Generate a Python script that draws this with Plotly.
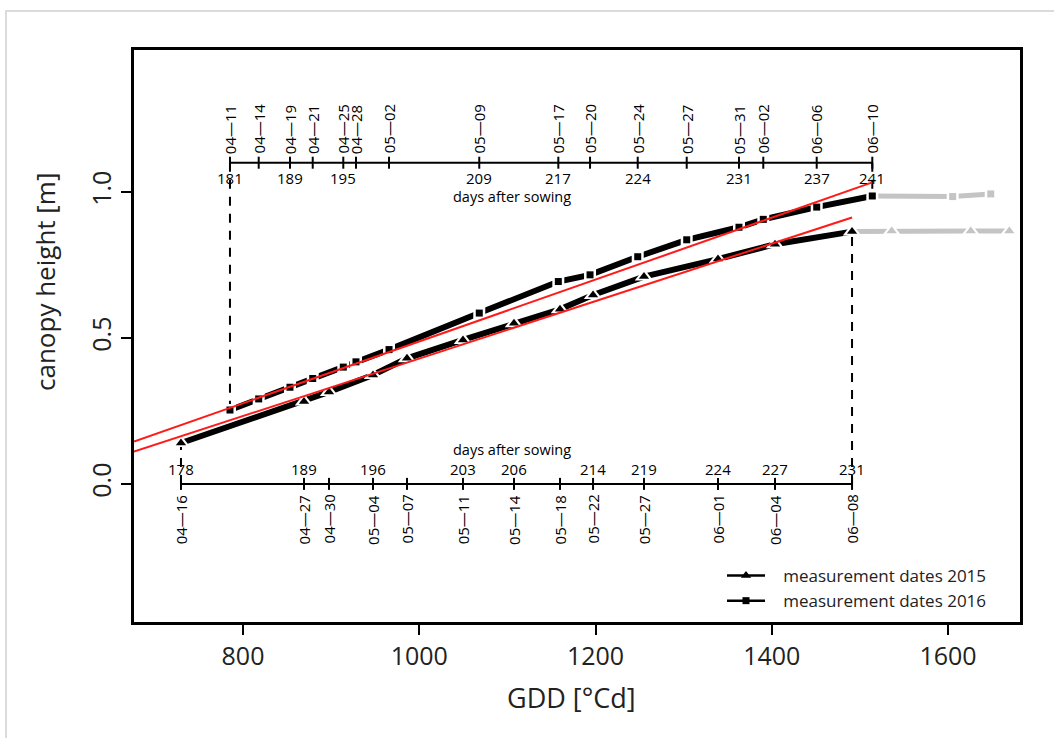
import plotly.graph_objects as go

# ---------------- data ----------------
gdd_2015 = [729.6, 869.2, 897.6, 947.5, 986.1, 1049.6, 1107.5, 1159.7, 1197.2, 1255.0, 1339.0, 1403.7, 1491.1]
height_2015 = [0.140, 0.282, 0.315, 0.373, 0.430, 0.493, 0.550, 0.598, 0.647, 0.710, 0.770, 0.821, 0.864]
dates_2015 = ["04—16", "04—27", "04—30", "05—04", "05—07", "05—11", "05—14",
              "05—18", "05—22", "05—27", "06—01", "06—04", "06—08"]
das_2015 = ["178", "189", "", "196", "", "203", "206", "", "214", "219", "224", "227", "231"]

gdd_2016 = [785.2, 817.8, 853.3, 879.1, 913.8, 928.2, 965.7, 1068.1, 1157.8, 1193.8,
            1247.9, 1303.5, 1362.8, 1390.4, 1451.0, 1514.1]
height_2016 = [0.253, 0.291, 0.331, 0.361, 0.400, 0.418, 0.460, 0.585, 0.693, 0.716,
               0.778, 0.836, 0.879, 0.906, 0.948, 0.986]
dates_2016 = ["04—11", "04—14", "04—19", "04—21", "04—25", "04—28", "05—02", "05—09",
              "05—17", "05—20", "05—24", "05—27", "05—31", "06—02", "06—06", "06—10"]
das_2016 = ["181", "", "189", "", "195", "", "", "209", "217", "", "224", "", "231", "", "237", "241"]

gdd_2015_ext = [1491.1, 1536.1, 1625.8, 1669.6]
height_2015_ext = [0.864, 0.866, 0.866, 0.866]
gdd_2016_ext = [1514.1, 1605.3, 1648.5]
height_2016_ext = [0.986, 0.984, 0.993]

fit_2015 = [-0.5547, 0.0009838]   # intercept, slope
fit_2016 = [-0.5714, 0.0010593]

x_ticks = [800, 1000, 1200, 1400, 1600]
y_ticks = [0.0, 0.5, 1.0]
y_tick_labels = ["0.0", "0.5", "1.0"]
legend_names = ["measurement dates 2015", "measurement dates 2016"]

X_RANGE = [676.3, 1681.7]
Y_RANGE = [-0.473, 1.486]
TOP_AXIS_Y = 1.1
BOTTOM_AXIS_Y = 0.0

# ---------------- layout helpers ----------------
W, H = 1054, 738
ML, MR, MT, MB = 134, 34, 50, 116
PLOT_H = H - MT - MB
PX_PER_Y = PLOT_H / (Y_RANGE[1] - Y_RANGE[0])


def dy(px):
    return px / PX_PER_Y


FONT = "Open Sans"
BLACK = "#000000"
GRAY = "#c4c4c4"
RED = "#ff1a1a"
NBSP = "\u00a0"

fig = go.Figure()


def axis_traces(gdds, yline):
    fig.add_trace(go.Scatter(x=[gdds[0], gdds[-1]], y=[yline, yline], mode="lines",
                             line=dict(color=BLACK, width=2), showlegend=False, hoverinfo="skip"))
    tx, ty = [], []
    for g in gdds:
        tx += [g, g, None]
        ty += [yline - dy(6), yline + dy(6), None]
    fig.add_trace(go.Scatter(x=tx, y=ty, mode="lines", line=dict(color=BLACK, width=2),
                             showlegend=False, hoverinfo="skip"))


axis_traces(gdd_2016, TOP_AXIS_Y)
axis_traces(gdd_2015, BOTTOM_AXIS_Y)

# dashed connectors from the date axes to first/last measurement
dx, dyv = [], []
for g, h in [(gdd_2016[0], height_2016[0]), (gdd_2016[-1], height_2016[-1])]:
    dx += [g, g, None]
    dyv += [TOP_AXIS_Y, h, None]
for g, h in [(gdd_2015[0], height_2015[0]), (gdd_2015[-1], height_2015[-1])]:
    dx += [g, g, None]
    dyv += [BOTTOM_AXIS_Y, h, None]
fig.add_trace(go.Scatter(x=dx, y=dyv, mode="lines", line=dict(color=BLACK, width=2, dash="9px,8px"),
                         showlegend=False, hoverinfo="skip"))

# gray extensions (lines)
fig.add_trace(go.Scatter(x=gdd_2015_ext, y=height_2015_ext, mode="lines",
                         line=dict(color=GRAY, width=5), showlegend=False, hoverinfo="skip"))
fig.add_trace(go.Scatter(x=gdd_2016_ext, y=height_2016_ext, mode="lines",
                         line=dict(color=GRAY, width=5), showlegend=False, hoverinfo="skip"))

# main series (thick lines)
fig.add_trace(go.Scatter(x=gdd_2015, y=height_2015, mode="lines",
                         line=dict(color=BLACK, width=6), showlegend=False, hoverinfo="skip"))
fig.add_trace(go.Scatter(x=gdd_2016, y=height_2016, mode="lines",
                         line=dict(color=BLACK, width=6), showlegend=False, hoverinfo="skip"))

# white gaps around points (type = "b" look)
for xs, ys, sym, sz in [(gdd_2015, height_2015, "triangle-up", 16),
                        (gdd_2016, height_2016, "square", 12),
                        (gdd_2015_ext[1:], height_2015_ext[1:], "triangle-up", 16),
                        (gdd_2016_ext[1:], height_2016_ext[1:], "square", 12)]:
    fig.add_trace(go.Scatter(x=xs, y=ys, mode="markers",
                             marker=dict(symbol=sym, size=sz, color="white"),
                             showlegend=False, hoverinfo="skip"))

# point symbols (legend entries)
fig.add_trace(go.Scatter(x=gdd_2015, y=height_2015, mode="markers", name=NBSP * 3 + legend_names[0],
                         marker=dict(symbol="triangle-up", size=9, color=BLACK),
                         line=dict(color=BLACK, width=2.5), showlegend=False))
fig.add_trace(go.Scatter(x=gdd_2016, y=height_2016, mode="markers", name=NBSP * 3 + legend_names[1],
                         marker=dict(symbol="square", size=7, color=BLACK),
                         line=dict(color=BLACK, width=2.5), showlegend=False))
fig.add_trace(go.Scatter(x=gdd_2015_ext[1:], y=height_2015_ext[1:], mode="markers",
                         marker=dict(symbol="triangle-up", size=9, color=GRAY),
                         showlegend=False, hoverinfo="skip"))
fig.add_trace(go.Scatter(x=gdd_2016_ext[1:], y=height_2016_ext[1:], mode="markers",
                         marker=dict(symbol="square", size=7, color=GRAY),
                         showlegend=False, hoverinfo="skip"))

# legend-only entries (thin line + symbol, like the reference key)
fig.add_trace(go.Scatter(x=[None], y=[None], mode="lines+markers", name=NBSP * 3 + legend_names[0],
                         line=dict(color=BLACK, width=2.5),
                         marker=dict(symbol="triangle-up", size=9, color=BLACK)))
fig.add_trace(go.Scatter(x=[None], y=[None], mode="lines+markers", name=NBSP * 3 + legend_names[1],
                         line=dict(color=BLACK, width=2.5),
                         marker=dict(symbol="square", size=7, color=BLACK)))

# linear fits
for fit, gdds in [(fit_2016, gdd_2016), (fit_2015, gdd_2015)]:
    xs = [X_RANGE[0], gdds[-1]]
    ys = [fit[0] + fit[1] * v for v in xs]
    fig.add_trace(go.Scatter(x=xs, y=ys, mode="lines", line=dict(color=RED, width=2),
                             showlegend=False, hoverinfo="skip"))

annotations = []
small = dict(size=15, color=BLACK, family=FONT)
# top axis labels (2016)
for g, d, n in zip(gdd_2016, dates_2016, das_2016):
    annotations.append(dict(x=g, y=TOP_AXIS_Y + dy(7), text=d, textangle=-90, showarrow=False,
                            xanchor="center", yanchor="bottom", font=small))
    if n:
        annotations.append(dict(x=g, y=TOP_AXIS_Y - dy(15), text=n, showarrow=False,
                                xanchor="center", yanchor="middle", font=small))
annotations.append(dict(x=1105, y=TOP_AXIS_Y - dy(34), text="days after sowing", showarrow=False,
                        xanchor="center", yanchor="middle", font=dict(size=14.5, color=BLACK, family=FONT)))
# bottom axis labels (2015)
for g, d, n in zip(gdd_2015, dates_2015, das_2015):
    annotations.append(dict(x=g, y=BOTTOM_AXIS_Y - dy(9), text=d, textangle=-90, showarrow=False,
                            xanchor="center", yanchor="top", font=small))
    if n:
        annotations.append(dict(x=g, y=BOTTOM_AXIS_Y + dy(15), text=n, showarrow=False,
                                xanchor="center", yanchor="middle", font=small))
annotations.append(dict(x=1105, y=BOTTOM_AXIS_Y + dy(34), text="days after sowing", showarrow=False,
                        xanchor="center", yanchor="middle", font=dict(size=14.5, color=BLACK, family=FONT)))

# axis titles
annotations.append(dict(xref="paper", yref="paper", x=(571 - ML) / (W - ML - MR), y=1 - (697 - MT) / PLOT_H,
                        text="GDD [°Cd]", showarrow=False, xanchor="center", yanchor="middle",
                        font=dict(size=27, color="#222222", family=FONT)))
annotations.append(dict(xref="paper", yref="paper", x=(45 - ML) / (W - ML - MR), y=1 - (282 - MT) / PLOT_H,
                        text="canopy height [m]", textangle=-90, showarrow=False, xanchor="center",
                        yanchor="middle", font=dict(size=26, color="#222222", family=FONT)))

fig.update_layout(
    width=W, height=H,
    margin=dict(l=ML, r=MR, t=MT, b=MB),
    paper_bgcolor="white", plot_bgcolor="white",
    font=dict(family=FONT, color="#222222"),
    annotations=annotations,
    shapes=[dict(type="rect", xref="paper", yref="paper",
                 x0=(6 - ML) / (W - ML - MR), x1=1.2,
                 y0=-0.4, y1=1 - (11 - MT) / PLOT_H,
                 line=dict(color="#cfcfcf", width=1.5), layer="below")],
    legend=dict(x=(722 - ML) / (W - ML - MR), y=1 - (558 - MT) / PLOT_H, xanchor="left", yanchor="top",
                bgcolor="rgba(0,0,0,0)", font=dict(size=17, color="#222222", family=FONT),
                itemwidth=38, tracegroupgap=0),
    xaxis=dict(range=X_RANGE, tickvals=x_ticks, showgrid=False, zeroline=False,
               showline=True, linecolor=BLACK, linewidth=3, mirror=True,
               ticks="outside", ticklen=10, tickwidth=2, tickcolor=BLACK,
               tickfont=dict(size=25, color="#222222", family=FONT)),
    yaxis=dict(range=Y_RANGE, tickvals=y_ticks, ticktext=y_tick_labels, tickangle=-90,
               showgrid=False, zeroline=False,
               showline=True, linecolor=BLACK, linewidth=3, mirror=True,
               ticks="outside", ticklen=10, tickwidth=2, tickcolor=BLACK,
               tickfont=dict(size=25, color="#222222", family=FONT)),
)

fig.write_html("out.html")
